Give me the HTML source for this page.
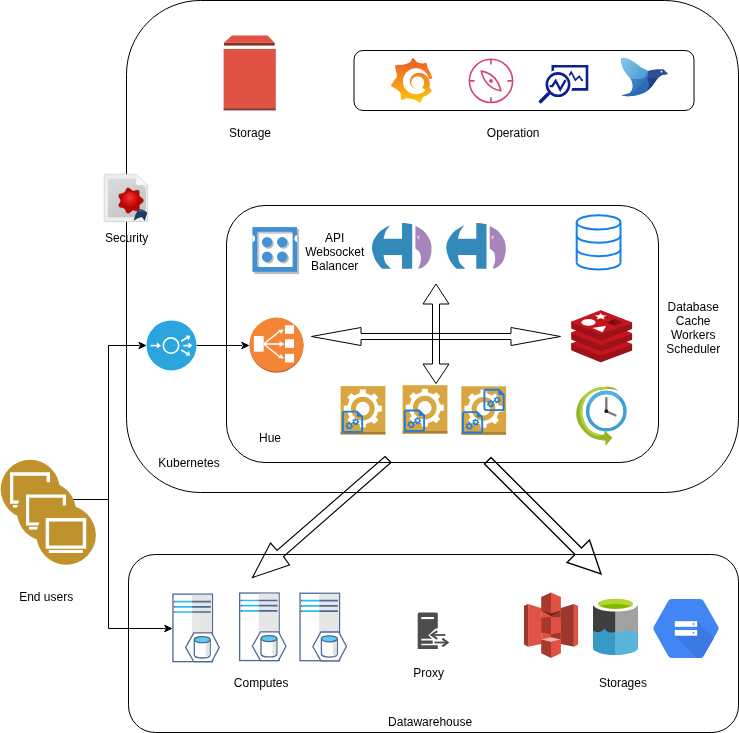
<!DOCTYPE html>
<html><head><meta charset="utf-8">
<style>
html,body{margin:0;padding:0;background:#fff;width:739px;height:733px;overflow:hidden}
svg{display:block}
text{font-family:"Liberation Sans",sans-serif;font-size:12px;fill:#000}
.tx{will-change:transform}
</style></head>
<body>
<svg width="739" height="733" viewBox="0 0 739 733">
<rect x="0" y="0" width="739" height="733" fill="#fff"/>
<!-- containers -->
<rect x="126.5" y="0.5" width="612" height="492" rx="73.8" ry="73.8" fill="none" stroke="#000" stroke-width="1"/>
<rect x="354" y="50.5" width="340" height="60" rx="9" ry="9" fill="none" stroke="#000" stroke-width="1"/>
<rect x="226.5" y="205.5" width="432" height="257" rx="38.5" ry="38.5" fill="none" stroke="#000" stroke-width="1"/>
<rect x="128.5" y="554.5" width="610" height="178" rx="26.7" ry="26.7" fill="none" stroke="#000" stroke-width="1"/>

<!-- connectors -->
<g fill="none" stroke="#000" stroke-width="1">
<path d="M73 499.5 H108.5 V345.5 H139.5"/>
<path d="M108.5 499.5 V628.5 H165.5"/>
<path d="M196.5 345.5 H242"/>
</g>
<g fill="#000" stroke="#000" stroke-width="1" stroke-linejoin="miter">
<path d="M145.7 345.5 L138.9 342.3 L140.6 345.5 L138.9 348.7 Z"/>
<path d="M248.5 345.5 L241.7 342.3 L243.4 345.5 L241.7 348.7 Z"/>
<path d="M171.5 628.5 L164.7 625.3 L166.4 628.5 L164.7 631.7 Z"/>
</g>

<!-- hollow arrows -->
<g fill="none" stroke="#000" stroke-width="1" stroke-linejoin="miter">
<path d="M311.5 336.5 L361 327.5 L361 333.5 L511 333.5 L511 327.5 L560.5 336.5 L511 345.5 L511 339.5 L361 339.5 L361 345.5 Z"/>
<path d="M436 284 L449 304 L439.5 304 L439.5 364 L449 364 L436 383.5 L423 364 L432.5 364 L432.5 304 L423 304 Z"/>
<path stroke-width="1.15" d="M385 456.5 L391 462.5 L283.5 556.5 L289.5 565 L252.5 577.5 L270.5 543 L277 550.5 Z"/>
<path stroke-width="1.35" d="M491 457.5 L581.5 548 L589.5 540 L601 574 L567 562.5 L575 554.5 L484.5 464 Z"/>
</g>

<!-- labels -->
<g text-anchor="middle" class="tx">
<text x="250" y="137">Storage</text>
<text x="513.2" y="137">Operation</text>
<text x="126.6" y="242">Security</text>
<text x="334.7" y="242">API</text>
<text x="334.7" y="256">Websocket</text>
<text x="334.7" y="270">Balancer</text>
<text x="693.2" y="311">Database</text>
<text x="693.2" y="325">Cache</text>
<text x="693.2" y="339">Workers</text>
<text x="693.2" y="353">Scheduler</text>
<text x="270" y="442">Hue</text>
<text x="189" y="467">Kubernetes</text>
<text x="46.2" y="601">End users</text>
<text x="261.2" y="686.5">Computes</text>
<text x="428.7" y="677">Proxy</text>
<text x="622.9" y="687">Storages</text>
<text x="430.1" y="726">Datawarehouse</text>
</g>

<!-- ICONS -->
<defs>
<linearGradient id="gGraf" gradientUnits="userSpaceOnUse" x1="0" y1="58" x2="0" y2="103">
<stop offset="0" stop-color="#F05A28"/><stop offset="0.45" stop-color="#F28A1E"/><stop offset="1" stop-color="#FBCA0A"/>
</linearGradient>
<g id="gearIcon">
<rect x="0" y="0" width="44.8" height="48.3" fill="#D9A741"/>
<rect x="0" y="45.9" width="44.8" height="2.4" fill="#A57E31"/>
<path fill="#fff" fill-rule="evenodd" d="M18.99 7.03 L19.36 3.51 L25.04 3.51 L25.41 7.03 L30.87 9.29 L33.62 7.06 L37.64 11.08 L35.41 13.83 L37.67 19.29 L41.19 19.66 L41.19 25.34 L37.67 25.71 L35.41 31.17 L37.64 33.92 L33.62 37.94 L30.87 35.71 L25.41 37.97 L25.04 41.49 L19.36 41.49 L18.99 37.97 L13.53 35.71 L10.78 37.94 L6.76 33.92 L8.99 31.17 L6.73 25.71 L3.21 25.34 L3.21 19.66 L6.73 19.29 L8.99 13.83 L6.76 11.08 L10.78 7.06 L13.53 9.29 Z M10.30 22.50 A11.90 11.90 0 1 0 34.10 22.50 A11.90 11.90 0 1 0 10.30 22.50 Z"/>
<path fill="#fff" d="M15.40 22.50 A6.80 6.80 0 1 1 29.00 22.50 A6.80 6.80 0 1 1 15.40 22.50 Z"/>
</g>
<g id="docOv">
<path d="M1.8 1 H15.2 L20.3 6 V19.6 Q20.3 21.4 18.5 21.4 H2.8 Q1 21.4 1 19.6 V2.8 Q1 1 2.8 1 Z" fill="none" stroke="#1E7DDC" stroke-width="1.9"/>
<path d="M15 1 L20.3 6.2 L15 6.2 Z" fill="#1E7DDC"/>
<path fill="#1E7DDC" fill-rule="evenodd" d="M10.29 14.87 L11.30 15.09 L10.99 16.63 L9.97 16.43 L9.38 17.22 L9.84 18.14 L8.44 18.86 L7.96 17.95 L6.98 17.97 L6.54 18.90 L5.11 18.26 L5.53 17.31 L4.89 16.56 L3.89 16.80 L3.50 15.28 L4.50 15.01 L4.70 14.05 L3.88 13.41 L4.83 12.17 L5.66 12.78 L6.54 12.33 L6.52 11.30 L8.09 11.26 L8.13 12.29 L9.03 12.70 L9.83 12.05 L10.83 13.25 L10.05 13.92 Z M5.80 15.10 A1.60 1.60 0 1 0 9.00 15.10 A1.60 1.60 0 1 0 5.80 15.10 Z"/>
<path fill="#1E7DDC" fill-rule="evenodd" d="M16.46 10.72 L17.38 10.83 L17.24 12.27 L16.31 12.20 L15.83 12.98 L16.32 13.77 L15.11 14.55 L14.58 13.78 L13.68 13.90 L13.36 14.77 L11.99 14.31 L12.27 13.42 L11.61 12.78 L10.73 13.08 L10.24 11.73 L11.11 11.39 L11.20 10.48 L10.41 9.98 L11.17 8.74 L11.97 9.21 L12.74 8.72 L12.65 7.79 L14.08 7.61 L14.21 8.53 L15.08 8.82 L15.75 8.17 L16.78 9.18 L16.14 9.86 Z M12.40 11.20 A1.40 1.40 0 1 0 15.20 11.20 A1.40 1.40 0 1 0 12.40 11.20 Z"/>
</g>
<g id="srv">
<rect x="0.65" y="0.65" width="39.5" height="67.5" fill="#fff" stroke="#4E6A93" stroke-width="1.3"/>
<rect x="19.8" y="1.3" width="19.7" height="45" fill="#E6E6E6"/>
<g stroke-width="1.7">
<path d="M3 8.1 H19.8 M3 13.3 H19.8 M3 18.5 H19.8" stroke="#29C0EF"/>
<path d="M19.8 8.1 H38.5 M19.8 13.3 H38.5 M19.8 18.5 H38.5 M1.5 8.1 H3 M1.5 13.3 H3 M1.5 18.5 H3" stroke="#4E6A93"/>
</g>
<path d="M13.4 53.9 L21.5 39.4 H39.4 L47 53.9 L39.4 68.2 H21.5 Z" fill="#fff" stroke="#4E6A93" stroke-width="1.3"/>
<path d="M22 46.2 V61.5 A7.95 3 0 0 0 37.9 61.5 V46.2" fill="#fff" stroke="#4E6A93" stroke-width="1.3"/>
<path d="M33.5 48.5 H37.2 V61.8 Q35.5 63.6 33.5 63.9 Z" fill="#E3E3E3"/>
<ellipse cx="29.95" cy="46.2" rx="7.95" ry="3" fill="#5ACDF5" stroke="#4E6A93" stroke-width="1.3"/>
</g>
<linearGradient id="gWing" gradientUnits="userSpaceOnUse" x1="622" y1="60" x2="646" y2="78">
<stop offset="0" stop-color="#84C6EA"/><stop offset="1" stop-color="#4A9AD4"/></linearGradient>
<linearGradient id="gBody" gradientUnits="userSpaceOnUse" x1="628" y1="80" x2="650" y2="92">
<stop offset="0" stop-color="#3A90CC"/><stop offset="1" stop-color="#2C62AE"/></linearGradient>
</defs>
<!-- Storage -->
<g>
<polygon points="231.9,35.4 267.5,35.4 274.7,42.8 224,42.8" fill="#E05243"/>
<rect x="224" y="42.8" width="50.7" height="2.8" fill="#8C3123"/>
<rect x="223.6" y="49" width="52.2" height="59.2" fill="#E05243"/>
<rect x="223.6" y="108.2" width="52.2" height="2.2" fill="#8C3123"/>
</g>
<!-- Grafana -->
<g>
<path fill="url(#gGraf)" d="M409.60 62.50 C410.85 61.70 412.05 58.15 412.90 58.10 C413.75 58.05 415.83 61.46 416.90 62.10 C417.97 62.74 420.98 63.47 422.10 63.60 C423.22 63.73 425.86 62.73 426.50 63.20 C427.14 63.67 427.09 66.35 427.60 67.60 C428.11 68.85 430.36 72.52 430.90 73.90 C431.44 75.28 432.41 77.90 432.20 79.40 C431.99 80.91 429.16 85.47 429.10 86.80 C429.04 88.13 431.92 89.82 431.70 90.80 C431.48 91.78 428.24 94.43 427.20 95.20 C426.16 95.97 423.62 96.54 422.80 97.40 C421.98 98.26 421.05 102.30 420.20 102.60 C419.35 102.90 416.99 100.51 415.50 100.00 C414.01 99.49 409.03 98.20 407.40 98.20 C405.77 98.20 402.32 100.61 401.50 100.00 C400.68 99.39 401.01 94.25 400.40 93.00 C399.79 91.75 397.37 90.15 396.30 89.30 C395.23 88.45 391.46 86.73 391.20 85.70 C390.94 84.67 393.42 81.62 394.10 80.50 C394.78 79.38 396.87 77.81 397.00 76.10 C397.13 74.38 394.59 67.09 395.20 65.80 C395.81 64.50 400.52 65.39 402.20 65.00 C403.88 64.61 408.35 63.30 409.60 62.50 Z"/>
<circle cx="416" cy="81.2" r="13.0" fill="#fff"/>
<path d="M416 81.2 L440 77.5 L440 87.5 Z" fill="#fff"/>
<path fill="url(#gGraf)" d="M417.7 89.1 L416.8 89.1 L415.9 89.0 L415.0 88.8 L414.2 88.5 L413.3 88.0 L412.5 87.5 L411.8 86.8 L411.2 86.0 L410.7 85.1 L410.2 84.2 L410.0 83.2 L409.8 82.1 L409.8 81.0 L410.0 79.9 L410.3 78.7 L410.8 77.7 L411.4 76.6 L412.2 75.7 L413.1 74.9 L414.2 74.1 L415.3 73.6 L416.6 73.1 L417.9 72.9 L419.3 72.8 L420.7 73.0 L422.0 73.3 L423.4 73.8 L424.7 74.5 L425.9 75.4 L427.0 76.5 L427.9 77.7 L428.7 79.1 L429.3 80.6 L429.6 82.2 L429.8 83.9 L429.7 85.6 L429.4 87.3 L428.8 88.9 L428.1 90.5 L427.0 92.0 L422.2 87.2 L422.8 86.6 L423.3 85.8 L423.7 85.0 L423.9 84.2 L424.1 83.3 L424.1 82.4 L424.0 81.6 L423.8 80.7 L423.5 79.9 L423.0 79.1 L422.5 78.4 L421.9 77.8 L421.2 77.3 L420.4 76.9 L419.6 76.6 L418.7 76.4 L417.8 76.3 L416.9 76.3 L416.1 76.5 L415.3 76.8 L414.5 77.2 L413.7 77.7 L413.1 78.3 L412.5 78.9 L412.1 79.7 L411.7 80.5 L411.4 81.3 L411.3 82.2 L411.3 83.1 L411.4 83.9 L411.7 84.8 L412.0 85.6 L412.4 86.4 L413.0 87.0 L413.6 87.6 L414.4 88.2 L415.1 88.6 L416.0 88.9 L416.8 89.0 L417.7 89.1 Z"/>
</g>
<!-- Compass -->
<g fill="none" stroke="#D3456B" stroke-width="1.6">
<circle cx="491" cy="80.9" r="21.6"/>
<path d="M491 59.5 V64.5 M491 97.3 V102.3 M469.6 80.9 H474.6 M507.4 80.9 H512.4"/>
<path d="M481.2 71.1 Q496.5 73.5 500.9 90.7 Q485.5 88.3 481.2 71.1 Z" stroke-linejoin="round"/>
<circle cx="491" cy="80.9" r="1.9" fill="#D3456B" stroke="none"/>
</g>
<!-- Monitor magnifier -->
<g fill="none" stroke="#0B1E93">
<path d="M552.8 73 V66.2 H587 V89.4 H570.5" stroke-width="2.6"/>
<circle cx="558" cy="84.6" r="13.6" stroke="#fff" stroke-width="2.2"/>
<circle cx="558" cy="84.6" r="11.2" stroke-width="2.6"/>
<path d="M548.1 94.1 L540.6 101.6" stroke-width="3.6" stroke-linecap="round"/>
<path d="M549.6 86.1 H552.3 L555.7 80.8 L560.2 89.5 L565.5 80.1" stroke-width="2.4"/>
<path d="M569.3 75.5 L571.2 72.1 L575.4 80.1 L579.2 76.3 L581.8 80.1 H583" stroke-width="1.6"/>
</g>
<!-- Bird -->
<g>
<path d="M621.3 58.5 Q626 57.5 630.2 60.1 Q636 63 640.8 67.4 L648.1 71.1 Q652 69.8 657 69.5 L663.5 69.5 L668 73.9 L661.9 75.1 L657.8 78 Q655 82 652.1 86.1 Q649 90 644.8 92.6 Q634 97.5 621.3 95.8 Q628 93.4 629.4 93.4 Q632.7 90 632.7 86.1 Q632 81 630.2 78 Q623.5 71 622.1 65.8 Q621 62 621.3 58.5 Z" fill="url(#gBody)"/>
<path d="M621.3 58.5 Q626 57.5 630.2 60.1 Q636 63 640.8 67.4 L648.1 71.1 Q647 76 643 78.5 Q636 80 630.2 78 Q623.5 71 622.1 65.8 Q621 62 621.3 58.5 Z" fill="url(#gWing)"/>
<path d="M648.1 71.1 Q652 69.8 657 69.5 L663.5 69.5 L668 73.9 L661.9 75.1 L657.8 78 Q652 79 647 78.5 Q649 75 648.1 71.1 Z" fill="#2E4F95"/>
<path d="M647 78.5 Q652 79 657.8 78 Q655 82 652.1 86.1 Q649 90 644.8 92.6 Q634 97.5 621.3 95.8 Q638 92 647 78.5 Z" fill="#2C6AB3"/>
<path d="M657.8 78 Q655 82 652.1 86.1 Q649 89.5 648 90 Q650 84 647.5 78.6 Z" fill="#223F86"/>
<circle cx="661.5" cy="71.6" r="0.9" fill="#fff"/>
</g>
<!-- Security -->
<defs>
<radialGradient id="gBall" cx="0.45" cy="0.35" r="0.65"><stop offset="0" stop-color="#F23A3A"/><stop offset="0.6" stop-color="#D40C0C"/><stop offset="1" stop-color="#A80404"/></radialGradient>
<linearGradient id="gDoc" x1="0" y1="0" x2="0.6" y2="1"><stop offset="0" stop-color="#DCDCDC"/><stop offset="1" stop-color="#C4C4C4"/></linearGradient>
</defs>
<g>
<path d="M104.2 174.2 H135.9 L147.7 185.3 V221.5 H104.2 Z" fill="#EEEEEE" stroke="#D2D2D2" stroke-width="0.8"/>
<path d="M108 178.8 H135 L145.8 188 V217.3 H108 Z" fill="url(#gDoc)"/>
<path d="M135.9 174.2 L147.7 185.3 H137.4 Q135.9 185.3 135.9 183.8 Z" fill="#F8F8F8" stroke="#D6D6D6" stroke-width="0.6"/>
<path d="M130.60 188.70 C131.19 189.13 131.66 189.82 132.18 190.12 C132.70 190.41 133.13 190.51 133.72 190.47 C134.32 190.43 135.04 190.01 135.76 189.88 C136.48 189.75 137.40 189.52 138.04 189.69 C138.67 189.87 139.27 190.34 139.58 190.92 C139.89 191.51 139.87 192.45 139.90 193.18 C139.94 193.91 139.69 194.71 139.78 195.30 C139.87 195.89 140.06 196.28 140.47 196.73 C140.87 197.17 141.65 197.47 142.20 197.95 C142.75 198.43 143.50 199.01 143.76 199.61 C144.02 200.22 144.02 200.98 143.76 201.59 C143.50 202.19 142.75 202.77 142.20 203.25 C141.65 203.73 140.87 204.03 140.47 204.47 C140.06 204.92 139.87 205.31 139.78 205.90 C139.69 206.49 139.94 207.29 139.90 208.02 C139.87 208.75 139.89 209.69 139.58 210.28 C139.27 210.86 138.67 211.33 138.04 211.51 C137.40 211.68 136.48 211.45 135.76 211.32 C135.04 211.19 134.32 210.77 133.72 210.73 C133.13 210.69 132.70 210.79 132.18 211.08 C131.66 211.38 131.19 212.07 130.60 212.50 C130.01 212.93 129.28 213.53 128.63 213.65 C127.98 213.77 127.24 213.60 126.71 213.21 C126.18 212.82 125.78 211.96 125.44 211.32 C125.09 210.68 124.97 209.85 124.63 209.36 C124.29 208.87 123.94 208.59 123.39 208.37 C122.83 208.15 122.00 208.21 121.30 208.02 C120.59 207.82 119.67 207.63 119.17 207.20 C118.67 206.77 118.34 206.08 118.31 205.42 C118.28 204.76 118.71 203.92 119.00 203.25 C119.28 202.58 119.86 201.97 120.03 201.39 C120.20 200.82 120.20 200.38 120.03 199.81 C119.86 199.23 119.28 198.62 119.00 197.95 C118.71 197.28 118.28 196.44 118.31 195.78 C118.34 195.12 118.67 194.43 119.17 194.00 C119.67 193.57 120.59 193.38 121.30 193.18 C122.00 192.99 122.83 193.05 123.39 192.83 C123.94 192.61 124.29 192.33 124.63 191.84 C124.97 191.35 125.09 190.52 125.44 189.88 C125.78 189.24 126.18 188.38 126.71 187.99 C127.24 187.60 127.98 187.43 128.63 187.55 C129.28 187.67 130.01 188.27 130.60 188.70 Z" fill="#B80808" stroke="#9FD3D8" stroke-width="0.6"/>
<circle cx="130.6" cy="200.4" r="8.6" fill="url(#gBall)"/>
<path d="M133.6 220.8 Q134.8 214.5 138.2 209.7 Q142 207.8 147.3 212.7 L144.7 221.1 Q143 218 141.6 217 Q138 217.5 133.6 220.8 Z" fill="#1F3A5D"/>
<path d="M138.4 210.2 Q142 208.6 146.5 212.4 Q142 211 139.2 212.3 Z" fill="#3A5778"/>
</g>
<!-- API balancer -->
<g>
<rect x="254.4" y="229.1" width="44.7" height="45" fill="#BDBDBD"/>
<rect x="252.4" y="227.1" width="44.7" height="44.7" fill="#3F8FD2"/>
<path d="M252.4 235.2 A2.6 3.4 0 0 1 252.4 242 Z" fill="#fff"/>
<path d="M297.1 235.2 A2.6 3.4 0 0 0 297.1 242 Z" fill="#fff"/>
<rect x="257.3" y="231.8" width="35.2" height="35.2" rx="1.5" fill="#C8C8C8"/>
<rect x="259.3" y="233.8" width="33.2" height="33.2" rx="1" fill="#fff"/>
<g fill="#BDBDBD">
<circle cx="268.6" cy="243.6" r="5.2"/><circle cx="283.7" cy="243.6" r="5.2"/>
<circle cx="268.6" cy="258.2" r="5.2"/><circle cx="283.7" cy="258.2" r="5.2"/>
</g>
<g fill="#4393D4">
<circle cx="267.1" cy="242.1" r="5.2"/><circle cx="282.2" cy="242.1" r="5.2"/>
<circle cx="267.1" cy="256.7" r="5.2"/><circle cx="282.2" cy="256.7" r="5.2"/>
</g>
</g>

<!-- HBase x2 -->
<g id="hb1" transform="translate(372,223)">
<path d="M18.40 1.90 C16.70 2.95 11.00 5.63 8.20 8.20 C5.40 10.77 2.95 14.27 1.60 17.30 C0.25 20.33 -0.25 23.02 0.10 26.40 C0.45 29.78 2.35 34.72 3.70 37.60 C5.05 40.48 7.07 42.35 8.20 43.70 C9.33 45.05 10.12 45.37 10.50 45.70 L18.9 45.7 C17.97 44.68 14.52 41.88 13.30 39.60 C12.08 37.32 11.88 33.27 11.60 32.00 L30 32 L30 45.7 L40.2 45.7 L40.2 1.3 C36 0.2 33 0 30 0 L30 15.8 L11.6 15.8 C11.97 14.53 12.67 10.52 13.80 8.20 C14.93 5.88 17.63 2.95 18.40 1.90 Z" fill="#3389B9"/>
<path d="M43.40 3.10 C44.82 3.95 49.47 5.83 51.90 8.20 C54.33 10.57 56.73 14.10 58.00 17.30 C59.27 20.50 59.67 24.02 59.50 27.40 C59.33 30.78 58.27 34.88 57.00 37.60 C55.73 40.32 53.68 42.35 51.90 43.70 C50.12 45.05 47.23 45.37 46.30 45.70 C46.72 44.35 48.55 40.30 48.80 37.60 C49.05 34.90 48.70 31.53 47.80 29.50 C46.90 27.47 44.13 26.08 43.40 25.40 Z" fill="#A585BB"/>
<path d="M47.3 13.3 A1.1 1.1 0 1 0 47.3 15.3" fill="none" stroke="#fff" stroke-width="0.9"/>
</g>
<g transform="translate(446.3,223)">
<path d="M18.40 1.90 C16.70 2.95 11.00 5.63 8.20 8.20 C5.40 10.77 2.95 14.27 1.60 17.30 C0.25 20.33 -0.25 23.02 0.10 26.40 C0.45 29.78 2.35 34.72 3.70 37.60 C5.05 40.48 7.07 42.35 8.20 43.70 C9.33 45.05 10.12 45.37 10.50 45.70 L18.9 45.7 C17.97 44.68 14.52 41.88 13.30 39.60 C12.08 37.32 11.88 33.27 11.60 32.00 L30 32 L30 45.7 L40.2 45.7 L40.2 1.3 C36 0.2 33 0 30 0 L30 15.8 L11.6 15.8 C11.97 14.53 12.67 10.52 13.80 8.20 C14.93 5.88 17.63 2.95 18.40 1.90 Z" fill="#3389B9"/>
<path d="M43.40 3.10 C44.82 3.95 49.47 5.83 51.90 8.20 C54.33 10.57 56.73 14.10 58.00 17.30 C59.27 20.50 59.67 24.02 59.50 27.40 C59.33 30.78 58.27 34.88 57.00 37.60 C55.73 40.32 53.68 42.35 51.90 43.70 C50.12 45.05 47.23 45.37 46.30 45.70 C46.72 44.35 48.55 40.30 48.80 37.60 C49.05 34.90 48.70 31.53 47.80 29.50 C46.90 27.47 44.13 26.08 43.40 25.40 Z" fill="#A585BB"/>
<path d="M47.3 13.3 A1.1 1.1 0 1 0 47.3 15.3" fill="none" stroke="#fff" stroke-width="0.9"/>
</g>
<!-- DB -->
<g fill="none" stroke="#1580EC" stroke-width="2">
<ellipse cx="598.6" cy="222.4" rx="21.9" ry="7.2"/>
<path d="M576.7 222.4 V262.5 M620.5 222.4 V262.5"/>
<path d="M576.7 235.8 A21.9 7 0 0 0 620.5 235.8"/>
<path d="M576.7 249.2 A21.9 7 0 0 0 620.5 249.2"/>
<path d="M576.7 262.5 A21.9 7 0 0 0 620.5 262.5"/>
</g>
<!-- Redis -->
<g>
<g transform="translate(0,21.6)">
<path d="M571.9 322.2 L600.7 333.6 L631.4 322.8 V328.6 L600.7 339.9 L571.9 328.2 Z" fill="#9B1219" stroke="#9B1219" stroke-width="1.4" stroke-linejoin="round"/>
<path d="M600.7 310.8 L631.4 322.8 L600.7 333.6 L571.9 322.2 Z" fill="#C3151E" stroke="#C3151E" stroke-width="1.4" stroke-linejoin="round"/>
</g>
<g transform="translate(0,10.8)">
<path d="M571.9 322.2 L600.7 333.6 L631.4 322.8 V328.6 L600.7 339.9 L571.9 328.2 Z" fill="#9B1219" stroke="#9B1219" stroke-width="1.4" stroke-linejoin="round"/>
<path d="M600.7 310.8 L631.4 322.8 L600.7 333.6 L571.9 322.2 Z" fill="#C3151E" stroke="#C3151E" stroke-width="1.4" stroke-linejoin="round"/>
</g>
<g transform="translate(0,0.0)">
<path d="M571.9 322.2 L600.7 333.6 L631.4 322.8 V328.6 L600.7 339.9 L571.9 328.2 Z" fill="#9B1219" stroke="#9B1219" stroke-width="1.4" stroke-linejoin="round"/>
<path d="M600.7 310.8 L631.4 322.8 L600.7 333.6 L571.9 322.2 Z" fill="#C3151E" stroke="#C3151E" stroke-width="1.4" stroke-linejoin="round"/>
</g>
<ellipse cx="588.5" cy="322.4" rx="7.1" ry="3.45" fill="#fff"/>
<path d="M600.70 313.00 L602.45 315.29 L606.98 315.49 L603.52 317.10 L604.58 319.51 L600.70 318.22 L596.82 319.51 L597.88 317.10 L594.42 315.49 L598.95 315.29 Z" fill="#fff"/>
<path d="M592.4 328.1 L606.2 325.8 L602.5 332.2 Z" fill="#fff"/>
<path d="M606.6 322.6 L614.9 318.9 V325.8 Z" fill="#6E0E12"/>
<path d="M614.9 318.9 L623.2 322.6 L614.9 325.8 Z" fill="#8A1218"/>
</g>
<!-- Clock -->
<g>
<path d="M619.80 391.50 C618.67 390.85 615.10 388.38 613.00 387.60 C610.90 386.82 610.20 386.63 607.20 386.80 C604.20 386.97 598.55 387.38 595.00 388.60 C591.45 389.82 588.57 391.87 585.90 394.10 C583.23 396.33 580.62 398.92 579.00 402.00 C577.38 405.08 576.37 409.18 576.20 412.60 C576.03 416.02 576.85 419.57 578.00 422.50 C579.15 425.43 581.10 427.88 583.10 430.20 C585.10 432.52 587.22 434.77 590.00 436.40 C592.78 438.03 597.23 439.30 599.80 440.00 C602.37 440.70 604.47 440.50 605.40 440.60 L605.4 446 L612.4 437.7 L604.5 430.2 L604.4 434.6 C603.63 434.57 602.03 435.00 599.80 434.40 C597.57 433.80 593.47 432.90 591.00 431.00 C588.53 429.10 586.47 426.07 585.00 423.00 C583.53 419.93 582.28 416.27 582.20 412.60 C582.12 408.93 583.20 404.10 584.50 401.00 C585.80 397.90 587.92 395.77 590.00 394.00 C592.08 392.23 594.17 391.23 597.00 390.40 C599.83 389.57 604.17 389.13 607.00 389.00 C609.83 388.87 611.87 389.18 614.00 389.60 C616.13 390.02 618.83 391.18 619.80 391.50 Z" fill="#93B52C"/>
<path d="M599.80 434.40 C598.33 433.83 593.47 432.90 591.00 431.00 C588.53 429.10 586.47 426.07 585.00 423.00 C583.53 419.93 582.28 416.27 582.20 412.60 C582.12 408.93 583.20 404.10 584.50 401.00 C585.80 397.90 587.92 395.77 590.00 394.00 C592.08 392.23 594.17 391.23 597.00 390.40 C599.83 389.57 605.33 389.23 607.00 389.00 L607.08 386.60 C605.23 386.87 599.14 387.27 596.02 388.21 C592.90 389.15 590.63 390.30 588.35 392.26 C586.07 394.22 583.75 396.57 582.33 399.98 C580.90 403.40 579.71 408.71 579.80 412.74 C579.90 416.77 581.28 420.80 582.90 424.16 C584.52 427.52 586.82 430.81 589.53 432.90 C592.24 434.99 597.55 436.08 599.15 436.71 Z" fill="#B2D03A"/>
<circle cx="606.3" cy="411.2" r="18.65" fill="#fff" stroke="#3A9FD4" stroke-width="3.5"/>
<path d="M588.8 404.8 A18.65 18.65 0 0 1 619.5 398" fill="none" stroke="#4EB3E0" stroke-width="3.5"/>
<path d="M606.3 397.2 V411.2" stroke="#7D7D7D" stroke-width="2.4"/>
<path d="M606.3 411.2 L616.3 415.8" stroke="#7A7A7A" stroke-width="2.2"/>
<circle cx="606.3" cy="411.2" r="1.9" fill="#1A1A1A"/>
</g>
<!-- LB blue -->
<g>
<circle cx="171.5" cy="345.4" r="25" fill="#2AA5DE"/>
<g fill="none" stroke="#fff" stroke-width="1.6">
<circle cx="171" cy="345.6" r="7.7"/>
<path d="M150.6 345.6 H158.5"/>
<path d="M181.2 341.2 L188.5 336.8 M183.4 345.6 H190 M181.2 350 L188.5 354.4"/>
</g>
<g fill="#fff">
<path d="M161 345.6 L157 342.6 V348.6 Z"/>
<path d="M192.5 345.6 L188.5 342.6 V348.6 Z"/>
<path d="M190.4 335.7 L185.7 335.4 L188.6 340.5 Z"/>
<path d="M190.4 355.5 L185.7 355.8 L188.6 350.7 Z"/>
</g>
</g>
<!-- ELB orange -->
<g>
<ellipse cx="276.5" cy="345.6" rx="27" ry="27.2" fill="#B9632A"/>
<circle cx="276.5" cy="344.6" r="27" fill="#F58536"/>
<g fill="#fff">
<rect x="253.9" y="336" width="9.8" height="15.7"/>
<rect x="285" y="325.2" width="9" height="8.6"/>
<rect x="285" y="339.2" width="9" height="8.7"/>
<rect x="285" y="353.8" width="9" height="8.7"/>
</g>
<g fill="none" stroke="#fff" stroke-width="1.4">
<path d="M263.7 344 L280 331 M263.7 344 H281 M263.7 344 L280 357"/>
</g>
<g fill="#fff">
<path d="M284 329.5 L278 330 L281 334 Z"/>
<path d="M284.5 344 L279.5 341 V347 Z"/>
<path d="M284 358.5 L278 358 L281 354 Z"/>
</g>
</g>

<!-- gear workers -->
<g transform="translate(340.6,386.1)"><use href="#gearIcon"/><use href="#docOv" transform="translate(1.3,24.5)"/></g>
<g transform="translate(402.6,385.2)"><use href="#gearIcon"/><use href="#docOv" transform="translate(1.2,24.3)"/></g>
<g transform="translate(461.3,386.3)"><use href="#gearIcon"/><use href="#docOv" transform="translate(0.6,24.8)"/><use href="#docOv" transform="translate(22.1,2.4)"/></g>
<!-- end users -->
<g>
<circle cx="30.2" cy="489.3" r="29.5" fill="#C0922E"/>
<g fill="#fff"><path d="M10 472.3 H50 V503.8 H10 Z M13.3 475.8 V500.4 H46.6 V475.8 Z" fill-rule="evenodd"/><rect x="13" y="505" width="27" height="2.6"/></g>
<circle cx="46.5" cy="511.5" r="29.6" fill="#C0922E"/>
<g fill="#fff"><path d="M26 494.5 H66 V525.6 H26 Z M29.2 497.8 V522.4 H62.8 V497.8 Z" fill-rule="evenodd"/><rect x="29" y="526.8" width="34" height="2.8"/></g>
<circle cx="66.2" cy="535" r="29.7" fill="#C0922E"/>
<g fill="#fff"><path d="M45.7 518 H86.2 V548.8 H45.7 Z M49.1 521.4 V545.4 H82.8 V521.4 Z" fill-rule="evenodd"/><rect x="48.8" y="550" width="34.1" height="3"/></g>
</g>

<!-- servers -->
<use href="#srv" transform="translate(172.3,593.5)"/>
<use href="#srv" transform="translate(239,592.4)"/>
<use href="#srv" transform="translate(299.4,592.6)"/>
<!-- proxy -->
<g>
<path d="M417.7 649.1 V614 Q417.7 612.5 419.2 612.5 H436.3 Q437.8 612.5 437.8 614 V649.1 Z" fill="#4D4D4D"/>
<rect x="421.3" y="617" width="12.6" height="2.1" fill="#fff"/>
<path d="M438.6 628.6 H435.6 L428.4 635.2 L432 638.7 H421.3 V640.4 H432.7 V643.7 H421.3 V645.3 H438.6 Z" fill="#fff"/>
<g fill="none" stroke="#4D4D4D" stroke-linecap="butt" stroke-linejoin="miter">
<path d="M432.6 635 H445.3" stroke-width="1.8"/>
<path d="M437.3 631.2 L431.6 635 L437.3 638.8" stroke-width="2.1"/>
<path d="M434.5 642.5 H447" stroke-width="1.8"/>
<path d="M442.3 638.6 L447.6 642.5 L442.3 646.4" stroke-width="2.1"/>
</g>
</g>
<!-- S3 -->
<g transform="translate(524,592.4)">
<path d="M0 13.3 L4.1 11.7 V54.3 L0 52.1 Z" fill="#9C392C"/>
<path d="M4.1 11.7 L17.2 15.5 V51.6 L4.1 54.3 Z" fill="#E05243"/>
<path d="M36.9 15.5 L49.9 11.7 V54.3 L36.9 51.6 Z" fill="#9A382B"/>
<path d="M49.9 11.7 L54.1 13.3 V52.1 L49.9 54.3 Z" fill="#E05243"/>
<path d="M17.2 15.5 H27 V51.6 H17.2 Z" fill="#E05243"/>
<path d="M27 15.5 H36.9 V51.6 H27 Z" fill="#9A382B"/>
<path d="M27 0 L17.2 4.6 V18.4 L27 21.2 Z" fill="#A8392D"/>
<path d="M27 0 L36.9 4.6 V18.4 L27 21.2 Z" fill="#E05243"/>
<path d="M17.2 18.4 L27 21.2 L36.9 18.4 L27 23.5 Z" fill="#6B2219"/>
<path d="M17.2 25 L27 24.7 V41.8 L17.2 40.2 Z" fill="#A8392D"/>
<path d="M27 24.7 L36.9 25 V40.2 L27 41.8 Z" fill="#E05243"/>
<path d="M27 44.9 L17.2 47.2 L27 49.5 L36.9 47.2 Z" fill="#F2B1A9"/>
<path d="M17.2 47.2 L27 49.5 V65.5 L17.2 60.8 Z" fill="#A8392D"/>
<path d="M36.9 47.2 L27 49.5 V65.5 L36.9 60.8 Z" fill="#E05243"/>
</g>
<!-- Azure data lake -->
<g>
<path d="M593 604.3 V648 A22.5 7 0 0 0 615.2 655 L615.8 655 V604.3 Z" fill="#3999C6"/>
<path d="M615.2 604.3 V655 A22.5 7 0 0 0 638 648 V604.3 Z" fill="#59B4D9"/>
<path d="M593 604.3 V630.5 Q597 633.5 601 631.5 Q603 630.5 604.5 628.5 Q606 631 609 632.2 Q613 633 615.2 631.5 L615.8 631.5 V604.3 Z" fill="#3E3E3E"/>
<path d="M615.2 604.3 V631.5 Q618 633 621 632.2 Q624 631 625.5 628.5 Q627 630.5 629 631.5 Q634 633.5 638 630.5 V604.3 Z" fill="#A0A1A3"/>
<ellipse cx="615.5" cy="604.3" rx="22.5" ry="7.2" fill="#fff"/>
<ellipse cx="615.5" cy="603.8" rx="17.6" ry="5.1" fill="#B8D432"/>
<path d="M599 606 Q615.5 602 632 606 Q624 608.9 615.5 608.9 Q607 608.9 599 606 Z" fill="#7FBA00"/>
</g>
<!-- GCP -->
<g>
<path d="M654 630.5 Q652.8 628.4 654 626.3 L668.2 601 Q669.4 598.9 671.8 598.9 H700 Q702.4 598.9 703.6 601 L718 626.3 Q719.2 628.4 718 630.5 L703.6 655.9 Q702.4 658 700 658 H671.8 Q669.4 658 668.2 655.9 Z" fill="#4285F4"/>
<path d="M697.2 621.2 L713.9 637.9 L703.6 655.9 Q702.4 658 700 658 H697.1 L674.8 635.7 H697.2 Z" fill="#3C79E2"/>
<rect x="674.8" y="621.2" width="22.4" height="5.6" fill="#fff"/>
<rect x="674.8" y="630" width="22.4" height="5.7" fill="#fff"/>
<circle cx="693.4" cy="624" r="0.9" fill="#4285F4"/>
<circle cx="693.4" cy="632.8" r="0.9" fill="#4285F4"/>
</g>
</svg>
</body></html>
